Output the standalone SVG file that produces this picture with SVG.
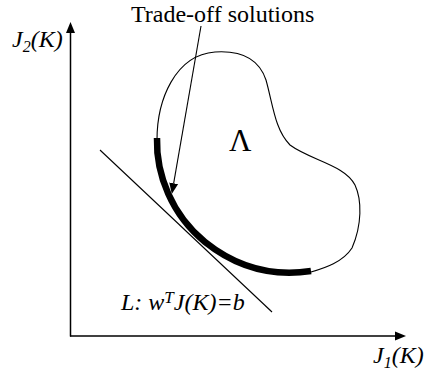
<svg xmlns="http://www.w3.org/2000/svg" width="425" height="373" viewBox="0 0 425 373">
<style>
  text { font-family: 'Liberation Serif', 'Times New Roman', Times, serif; fill: #000; }
  .it { font-style: italic; }
  .axis { stroke: #000; stroke-width: 1.5; fill: none; }
  .thin { stroke: #000; stroke-width: 1.1; fill: none; }
  .thick { stroke: #000; stroke-width: 6.5; fill: none; stroke-linecap: butt; }
</style>
<defs>
  <marker id="ah" markerUnits="userSpaceOnUse" markerWidth="12" markerHeight="10" refX="0" refY="5" orient="auto">
    <path d="M0,0.5 L11,5 L0,9.5 Z" fill="#000"/>
  </marker>
</defs>
<rect width="425" height="373" fill="#fff"/>
<g id="axes">
  <line class="axis" x1="70.5" y1="336.5" x2="70.5" y2="33" marker-end="url(#ah)"/>
  <line class="axis" x1="70" y1="336" x2="395" y2="336" marker-end="url(#ah)"/>
</g>
<g id="region">
  <path class="thin" d="M157,140 C157,100 175,55 215,52 C245,50 260,62 266,80 C273,105 275,130 290,145 C310,160 345,165 355,185 C362,200 362,225 352,248 C343,262 325,268 311,272"/>
  <path class="thick" d="M157,138 C156,175 172,215 205,242 C230,262 265,278 311,271"/>
  <text x="229" y="151" font-family="Liberation Serif, serif" font-size="31">Λ</text>
</g>
<g id="tangent">
  <line class="thin" x1="100" y1="150" x2="272" y2="312" stroke-width="1"/>
  <text class="it" x="121" y="310" font-family="Liberation Serif, serif" font-size="24">L: w<tspan font-size="17" dy="-7">T</tspan><tspan dy="7">J(K)=b</tspan></text>
</g>
<g id="connectors">
  <line class="thin" x1="201" y1="26" x2="173.7" y2="183.2" marker-end="url(#ah)"/>
</g>
<g id="labels">
  <text x="131" y="22" font-family="Liberation Serif, serif" font-size="24">Trade-off solutions</text>
  <text class="it" x="12" y="47" font-family="Liberation Serif, serif" font-size="24">J<tspan font-size="16" dy="5">2</tspan><tspan dy="-5">(K)</tspan></text>
  <text class="it" x="373" y="363" font-family="Liberation Serif, serif" font-size="24">J<tspan font-size="16" dy="5">1</tspan><tspan dy="-5">(K)</tspan></text>
</g>
</svg>
